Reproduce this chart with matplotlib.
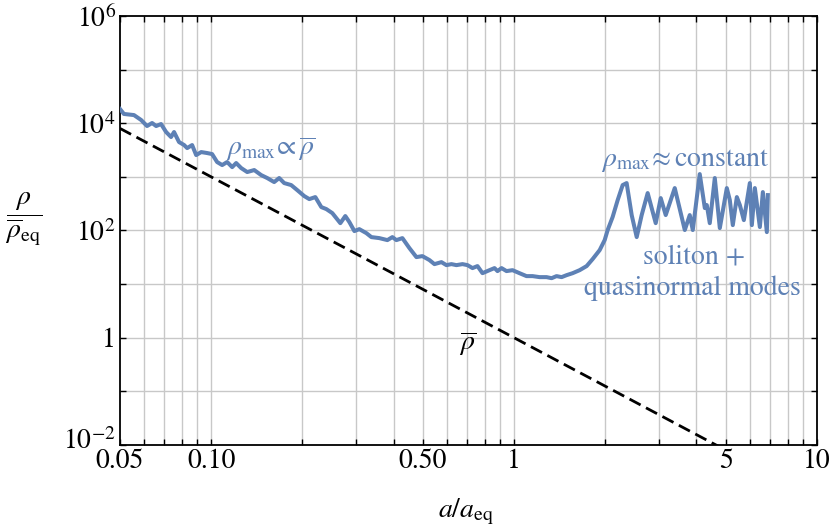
import numpy as np
import matplotlib.pyplot as plt
from matplotlib.ticker import FixedLocator, FixedFormatter, NullFormatter
from matplotlib.transforms import ScaledTranslation

plt.rcParams['font.family'] = ['STIXGeneral', 'DejaVu Serif']
plt.rcParams['mathtext.fontset'] = 'stix'

# rho_max / rho_eq
a_max = [0.0500, 0.0515, 0.0556, 0.0587, 0.0614, 0.0638, 0.0658, 0.0683, 0.0710, 0.0737,
         0.0754, 0.0783, 0.0814, 0.0833, 0.0865, 0.0892, 0.0927, 0.0970, 0.1007, 0.1046,
         0.1087, 0.1129, 0.1173, 0.1209, 0.1256, 0.1315, 0.1387, 0.1462, 0.1531, 0.1614,
         0.1677, 0.1742, 0.1837, 0.1923, 0.2029, 0.2108, 0.2207, 0.2310, 0.2399, 0.2511,
         0.2669, 0.2772, 0.2858, 0.2970, 0.3083, 0.3252, 0.3379, 0.3590, 0.3817, 0.3964,
         0.4087, 0.4278, 0.4512, 0.4759, 0.4981, 0.5254, 0.5458, 0.5756, 0.5979, 0.6211,
         0.6451, 0.6756, 0.7018, 0.7290, 0.7572, 0.7865, 0.8294, 0.8618, 0.8817, 0.9090,
         0.9441, 0.9883, 1.042, 1.099, 1.151, 1.214, 1.280, 1.330, 1.381, 1.435,
         1.491, 1.561, 1.646, 1.736, 1.817, 1.917, 1.991, 2.037, 2.115, 2.198,
         2.283, 2.353, 2.445, 2.540, 2.638, 2.761, 2.935, 3.049, 3.167, 3.392,
         3.661, 3.802, 3.890, 4.102, 4.263, 4.328, 4.427, 4.599, 4.778, 5.039,
         5.155, 5.274, 5.438, 5.564, 5.736, 6.003, 6.095, 6.236, 6.478, 6.627,
         6.831, 6.883]
rho_max = [1.84e4, 1.49e4, 1.42e4, 1.15e4, 8.87e3, 1.01e4, 8.87e3, 9.66e3, 6.85e3, 5.53e3,
           6.85e3, 4.46e3, 3.92e3, 3.44e3, 3.92e3, 2.55e3, 2.90e3, 2.78e3, 2.66e3, 1.89e3,
           1.66e3, 1.89e3, 1.52e3, 1.81e3, 1.46e3, 1.23e3, 1.34e3, 1.08e3, 951, 800,
           951, 766, 703, 567, 438, 385, 420, 273, 251, 211,
           137, 186, 144, 97.5, 106, 89.4, 75.3, 72.1, 66.2, 75.3,
           66.2, 72.1, 47.0, 31.9, 33.3, 28.1, 23.6, 25.7, 22.6, 23.6,
           22.6, 23.6, 22.6, 19.9, 21.7, 16.0, 18.2, 19.9, 17.5, 19.9,
           17.5, 18.2, 16.0, 14.1, 14.1, 13.5, 13.5, 12.9, 14.1, 13.5,
           14.7, 16.0, 18.2, 21.7, 29.3, 43.1, 66.2, 102, 178, 369,
           703, 766, 194, 75.3, 194, 499, 137, 402, 194, 618,
           102, 194, 102, 1127, 262, 298, 137, 951, 111, 618,
           369, 126, 420, 298, 156, 766, 126, 618, 116, 520,
           93.3, 457]

# mean density line (ends)
a_bar = [0.05, 10.0]
rho_bar = [8.0e3, 1.0e-3]

x_major = [0.05, 0.1, 0.5, 1, 5, 10]
x_major_labels = ['0.05', '0.10', '0.50', '1', '5', '10']
x_minor = [0.06, 0.07, 0.08, 0.09, 0.2, 0.3, 0.4, 0.6, 0.7, 0.8, 0.9,
           2, 3, 4, 6, 7, 8, 9]
y_ticks = [1e-2, 1e-1, 1, 1e1, 1e2, 1e3, 1e4, 1e5, 1e6]
y_labels = [r'$10^{-2}$', '', '1', '', r'$10^{2}$', '', r'$10^{4}$', '', r'$10^{6}$']

blue = '#5e81b5'
fs = 20

fig = plt.figure(figsize=(8.3, 5.26), dpi=100)
ax = fig.add_axes([0.1446, 0.154, 0.8397, 0.8156])
ax.set_xscale('log')
ax.set_yscale('log')
ax.set_xlim(0.05, 10)
ax.set_ylim(1e-2, 1e6)

for x in x_major[1:-1] + x_minor:
    ax.axvline(x, color='#c8c8c8', lw=1.0, zorder=0)
for y in y_ticks[1:-1]:
    ax.axhline(y, color='#c8c8c8', lw=1.0, zorder=0)

ax.plot(a_bar, rho_bar, color='black', lw=2.0, dashes=(4.5, 2.2), zorder=2)
ax.plot(a_max, rho_max, color=blue, lw=2.9, solid_joinstyle='round', zorder=3)

ax.xaxis.set_major_locator(FixedLocator(x_major))
ax.xaxis.set_major_formatter(FixedFormatter(x_major_labels))
ax.xaxis.set_minor_locator(FixedLocator(x_minor))
ax.xaxis.set_minor_formatter(NullFormatter())
ax.yaxis.set_major_locator(FixedLocator(y_ticks))
ax.yaxis.set_major_formatter(FixedFormatter(y_labels))
ax.yaxis.set_minor_locator(FixedLocator([]))

ax.tick_params(which='both', direction='in', top=True, right=True, width=1.0,
               labelsize=fs, colors='black')
ax.tick_params(axis='x', which='both', length=4.5, pad=3)
ax.tick_params(axis='y', which='both', length=4.5, pad=3)
for s in ax.spines.values():
    s.set_linewidth(1.3)

# nudge the bottom y label up so it clears the 0.05 label
lab = ax.yaxis.get_major_ticks()[0].label1
lab.set_transform(lab.get_transform() + ScaledTranslation(0, 5 / 72, fig.dpi_scale_trans))

ax.set_xlabel(r'$a/a_{\rm eq}$', fontsize=fs)
ax.xaxis.set_label_coords(0.496, -0.12)
ax.set_ylabel(r'$\dfrac{\rho}{\overline{\rho}_{\rm eq}}$', fontsize=fs, rotation=0,
              va='center', ha='center')
ax.yaxis.set_label_coords(-0.139, 0.527)

ax.text(0.112, 3440, r'$\rho_{\max}\!\propto\overline{\rho}$', color=blue,
        fontsize=fs, ha='left', va='center')
ax.text(3.66, 2060, r'$\rho_{\max}\!\approx\mathrm{constant}$', color=blue,
        fontsize=fs, ha='center', va='center')
ax.text(3.92, 31.9, 'soliton +', color=blue, fontsize=fs, ha='center', va='center')
ax.text(3.88, 8.4, 'quasinormal modes', color=blue, fontsize=fs,
        ha='center', va='center')
ax.text(0.70, 0.79, r'$\overline{\rho}$', color='black', fontsize=fs,
        ha='center', va='center')

fig.savefig('out.png', dpi=100)
